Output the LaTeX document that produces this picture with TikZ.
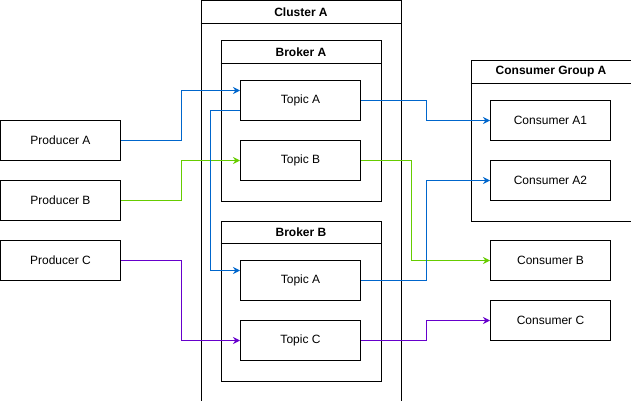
\documentclass[tikz,border=0pt]{standalone}
\usepackage{fontspec}
\setmainfont{Liberation Sans}
\usetikzlibrary{arrows.meta}

\definecolor{kblue}{HTML}{0066CC}
\definecolor{kgreen}{HTML}{66CC00}
\definecolor{kpurple}{HTML}{6600CC}

\tikzset{
	box/.style = {draw, line width=1pt, minimum width=120pt, minimum height=40pt, inner sep=0pt,
		font=\fontsize{12}{14}\selectfont},
	group/.style = {draw, line width=1pt, inner sep=0pt, anchor=north west},
	title/.style = {font=\fontsize{12}{14}\selectfont\bfseries},
	link/.style = {line width=1pt, -{Stealth[length=7pt,width=7pt]}}
}

\begin{document}
\begin{tikzpicture}[x=1pt, y=-1pt]
	\useasboundingbox (-0.5,-0.5) rectangle (630.5,400.5);
	% containers
	\node[group, minimum width=200pt, minimum height=400pt] (cl) at (200,0) {};
	\node[group, minimum width=160pt, minimum height=160pt] (ba) at (220,40) {};
	\node[group, minimum width=160pt, minimum height=160pt] (bb) at (220,220) {};
	\node[group, minimum width=160pt, minimum height=160pt] (cg) at (470,60) {};
	\foreach \g/\t in {cl/Cluster A, ba/Broker A, bb/Broker B, cg/Consumer Group A} {
		\draw[line width=1pt] ([yshift=-23pt]\g.north west) -- ([yshift=-23pt]\g.north east);
		\node[title] at ([yshift=-11.5pt]\g.north) {\t};
	}
	% producers
	\node[box] (pa) at (60,140) {Producer A};
	\node[box] (pb) at (60,200) {Producer B};
	\node[box] (pc) at (60,260) {Producer C};
	% topics
	\node[box] (ta1) at (300,100) {Topic A};
	\node[box] (tb1) at (300,160) {Topic B};
	\node[box] (ta2) at (300,280) {Topic A};
	\node[box] (tc) at (300,340) {Topic C};
	% consumers
	\node[box] (ca1) at (550,120) {Consumer A1};
	\node[box] (ca2) at (550,180) {Consumer A2};
	\node[box] (cb) at (550,260) {Consumer B};
	\node[box] (cc) at (550,320) {Consumer C};

	\draw[link, kblue] (pa.east) -- ++(60,0) |- ([yshift=10pt]ta1.west);
	\draw[link, kgreen] (pb.east) -- ++(60,0) |- (tb1.west);
	\draw[link, kpurple] (pc.east) -- ++(60,0) |- (tc.west);
	\draw[link, kblue] ([yshift=-10pt]ta1.west) -- ++(-30,0) |- ([yshift=10pt]ta2.west);

	\draw[link, kblue] (ta1.east) -- ++(65,0) |- (ca1.west);
	\draw[link, kgreen] (tb1.east) -- ++(50,0) |- (cb.west);
	\draw[link, kblue] (ta2.east) -- ++(65,0) |- (ca2.west);
	\draw[link, kpurple] (tc.east) -- ++(65,0) |- (cc.west);
\end{tikzpicture}
\end{document}
